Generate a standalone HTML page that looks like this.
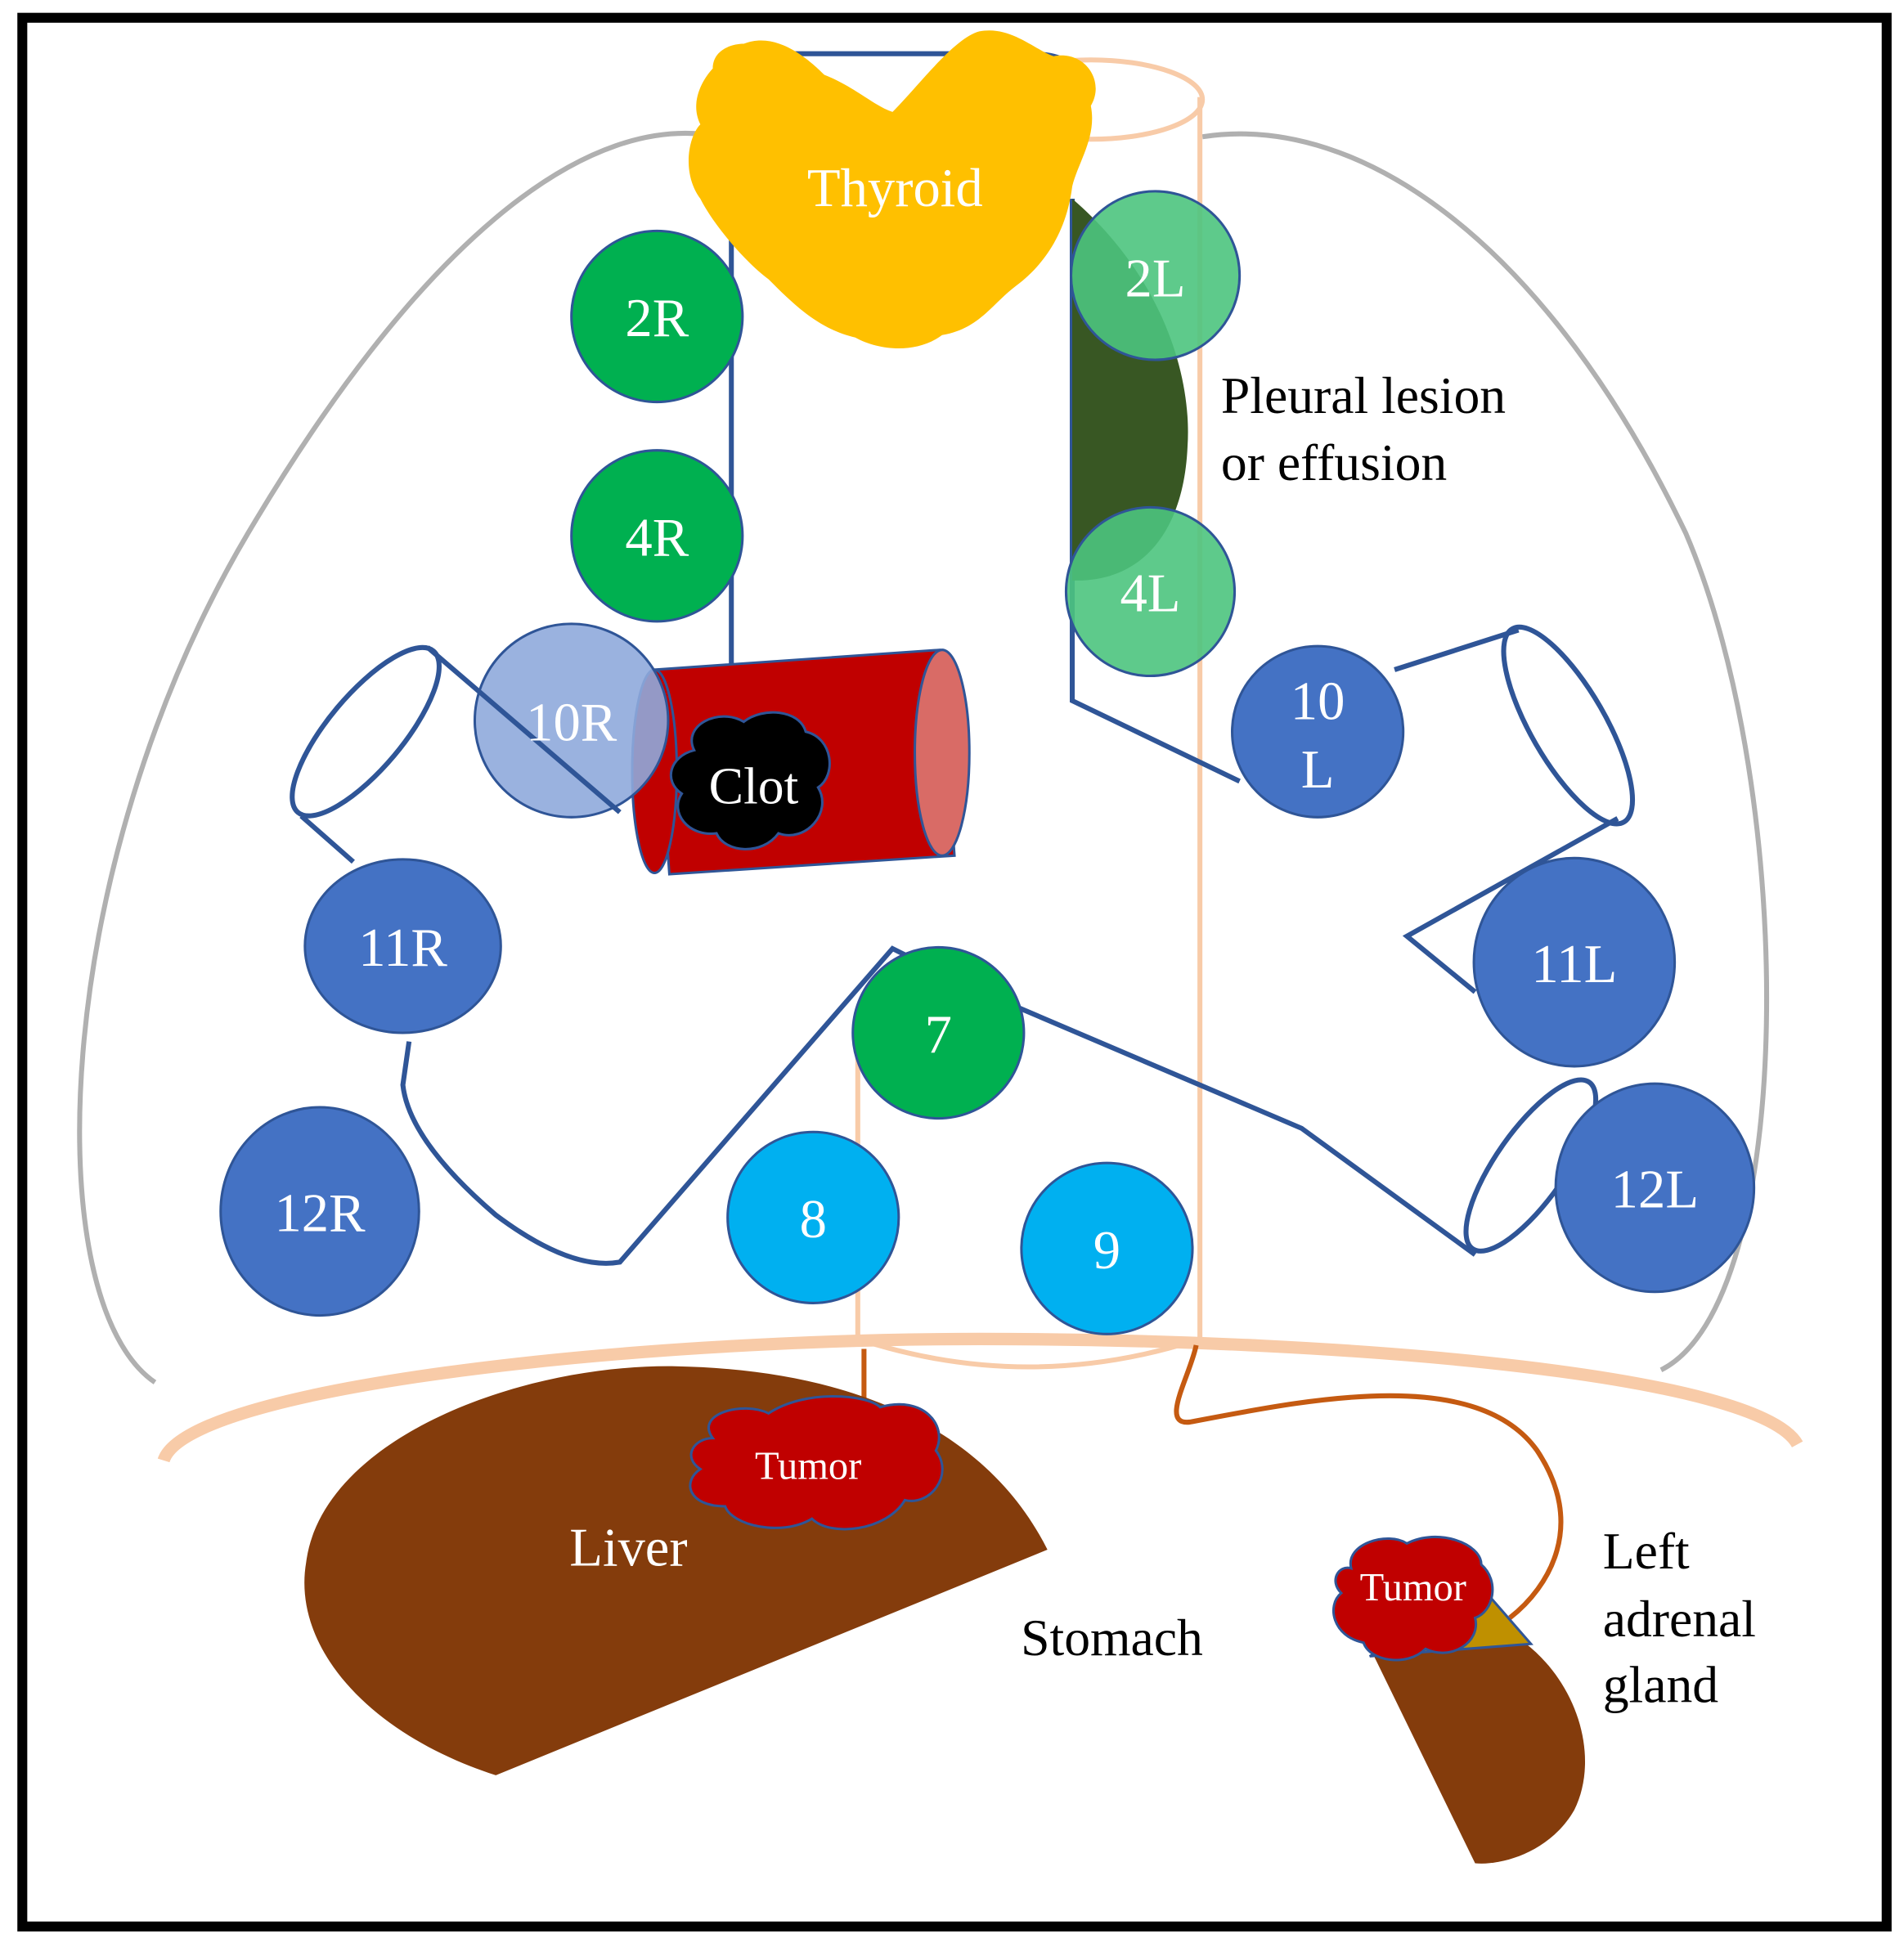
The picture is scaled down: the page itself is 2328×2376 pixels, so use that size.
<!DOCTYPE html>
<html><head><meta charset="utf-8"><style>
html,body{margin:0;padding:0;background:#fff}
svg{display:block}
text{font-family:"Liberation Serif",serif}
</style></head><body>
<svg width="2328" height="2376" viewBox="0 0 1536 1567" xmlns="http://www.w3.org/2000/svg">
<rect x="0" y="0" width="1536" height="1567" fill="#fff"/>
<rect x="18" y="14" width="1504" height="1540" fill="none" stroke="#000" stroke-width="8"/>
<path d="M125,1115 C30,1050 40,700 200,430 C330,210 470,80 590,112" fill="none" stroke="#b0b0b0" stroke-width="4"/>
<path d="M970,110 C1100,90 1250,200 1360,430 C1450,640 1450,1050 1340,1105" fill="none" stroke="#b0b0b0" stroke-width="4"/>
<ellipse cx="880" cy="80" rx="90" ry="32" fill="none" stroke="#f8cba8" stroke-width="4"/>
<line x1="968" y1="78" x2="968" y2="1082" stroke="#f8cba8" stroke-width="4"/>
<line x1="692" y1="820" x2="692" y2="1082" stroke="#f8cba8" stroke-width="4"/>
<path d="M692,1080 Q830,1125 968,1080" fill="none" stroke="#f8cba8" stroke-width="4"/>
<path d="M132,1178 C150,1120 500,1080 790,1080 C1100,1080 1420,1110 1450,1165" fill="none" stroke="#f8cba8" stroke-width="10"/>
<path d="M590,535 L590,180" fill="none" stroke="#2f5597" stroke-width="4"/>
<path d="M590,60 Q590,43 640,43 L830,43 Q865,43 865,60" fill="none" stroke="#2f5597" stroke-width="4"/>
<path d="M865,160 L865,565 L1000,630" fill="none" stroke="#2f5597" stroke-width="4"/>
<ellipse cx="295" cy="590" rx="30" ry="85" transform="rotate(40 295 590)" fill="none" stroke="#2f5597" stroke-width="4"/>
<path d="M243,658 L285,695" stroke="#2f5597" stroke-width="4"/>
<path d="M330,840 L325,875 Q330,920 400,980 Q460,1025 500,1018 L720,765 L730,770" fill="none" stroke="#2f5597" stroke-width="4"/>
<path d="M1125,540 L1225,508" stroke="#2f5597" stroke-width="4"/>
<ellipse cx="1265" cy="585" rx="30" ry="90" transform="rotate(-30 1265 585)" fill="none" stroke="#2f5597" stroke-width="4"/>
<path d="M1305,660 L1135,755 L1190,800" fill="none" stroke="#2f5597" stroke-width="4"/>
<path d="M820,812 L1050,910 L1190,1012" fill="none" stroke="#2f5597" stroke-width="4"/>
<ellipse cx="1235" cy="940" rx="28" ry="82" transform="rotate(35 1235 940)" fill="none" stroke="#2f5597" stroke-width="4"/>
<path d="M600,35 C625,25 650,45 665,60 C690,70 705,85 720,90 C740,70 770,30 790,25 C815,20 835,40 850,45 C875,40 892,65 880,85 C885,110 870,130 865,150 C860,190 840,215 820,230 C800,245 790,265 760,270 C740,285 710,283 690,272 C660,265 640,245 620,225 C600,210 575,180 565,160 C550,140 555,110 565,100 C555,80 570,60 575,55 C575,40 590,35 600,35 Z" fill="#ffc000"/>
<text x="722" y="166" fill="#fff" font-size="44" text-anchor="middle">Thyroid</text>
<path d="M865,160 C935,220 962,300 958,360 C955,430 920,470 865,468 Z" fill="#385723"/>
<path d="M528,540 L758,524 L770,690 L540,705 Z" fill="#c00000" stroke="#2f5597" stroke-width="2"/>
<ellipse cx="528" cy="622" rx="18" ry="82" fill="#c00000" stroke="#2f5597" stroke-width="2"/>
<ellipse cx="760" cy="607" rx="22" ry="83" fill="#d96b66" stroke="#2f5597" stroke-width="2"/>
<g stroke="#2f5597" stroke-width="2">
<circle cx="530" cy="255" r="69" fill="#00b050"/>
<circle cx="530" cy="432" r="69" fill="#00b050"/>
<circle cx="757" cy="833" r="69" fill="#00b050"/>
<circle cx="932" cy="222" r="68" fill="#4dc47e" fill-opacity="0.9"/>
<circle cx="928" cy="477" r="68" fill="#4dc47e" fill-opacity="0.9"/>
<circle cx="461" cy="581" r="78" fill="#8faadc" fill-opacity="0.9"/>
<circle cx="1063" cy="590" r="69" fill="#4472c4"/>
<ellipse cx="325" cy="763" rx="79" ry="70" fill="#4472c4"/>
<ellipse cx="258" cy="977" rx="80" ry="84" fill="#4472c4"/>
<ellipse cx="1270" cy="776" rx="81" ry="84" fill="#4472c4"/>
<ellipse cx="1335" cy="958" rx="80" ry="84" fill="#4472c4"/>
<circle cx="656" cy="982" r="69" fill="#00b0f0"/>
<circle cx="893" cy="1007" r="69" fill="#00b0f0"/>
</g>
<path d="M345,522 L500,655" stroke="#2f5597" stroke-width="4"/>
<g fill="#fff" font-size="44" text-anchor="middle">
<text x="530" y="271">2R</text><text x="530" y="448">4R</text><text x="757" y="849">7</text>
<text x="932" y="239">2L</text><text x="928" y="493">4L</text><text x="461" y="597">10R</text>
<text x="1063" y="580">10</text><text x="1063" y="635">L</text>
<text x="325" y="779">11R</text><text x="258" y="993">12R</text><text x="1270" y="792">11L</text>
<text x="1335" y="974">12L</text><text x="656" y="998">8</text><text x="893" y="1023">9</text>
</g>
<path d="M560,605 C550,585 580,570 600,582 C615,570 645,572 650,590 C672,595 675,625 660,635 C672,655 650,680 628,672 C615,690 585,688 578,672 C555,675 540,655 550,640 C535,630 540,610 560,605 Z" fill="#000" stroke="#2f5597" stroke-width="2"/>
<text x="608" y="648" fill="#fff" font-size="42" text-anchor="middle">Clot</text>
<text x="985" y="333" fill="#000" font-size="42">Pleural lesion</text>
<text x="985" y="387" fill="#000" font-size="42">or effusion</text>
<line x1="697" y1="1088" x2="697" y2="1132" stroke="#c55a11" stroke-width="4"/>
<path d="M965,1085 C960,1110 935,1150 960,1147 C1050,1130 1190,1100 1240,1170 C1280,1230 1250,1280 1218,1305" fill="none" stroke="#c55a11" stroke-width="4"/>
<path d="M845,1250 L400,1432 C300,1400 235,1330 247,1260 C260,1160 420,1100 545,1102 C700,1105 800,1160 845,1250 Z" fill="#843c0c"/>
<path d="M575,1160 C560,1140 600,1130 620,1140 C650,1120 700,1125 710,1135 C745,1125 765,1150 755,1170 C770,1190 750,1215 730,1210 C715,1235 670,1240 655,1225 C630,1240 590,1230 585,1215 C555,1215 550,1195 565,1185 C550,1175 560,1160 575,1160 Z" fill="#c00000" stroke="#2f5597" stroke-width="2"/>
<text x="652" y="1193" fill="#fff" font-size="32" text-anchor="middle">Tumor</text>
<text x="507" y="1263" fill="#fff" font-size="44" text-anchor="middle">Liver</text>
<text x="897" y="1335" fill="#000" font-size="42" text-anchor="middle">Stomach</text>
<path d="M1108,1335 L1230,1325 C1275,1360 1290,1420 1270,1460 C1250,1495 1210,1505 1190,1503 Z" fill="#843c0c"/>
<path d="M1195,1280 L1235,1326 L1105,1336 Z" fill="#bf9000" stroke="#2f5597" stroke-width="2"/>
<path d="M1090,1265 C1085,1245 1120,1235 1135,1245 C1160,1232 1195,1245 1195,1262 C1210,1275 1205,1300 1190,1305 C1195,1325 1170,1340 1150,1330 C1135,1345 1105,1340 1100,1325 C1075,1320 1070,1295 1082,1285 C1072,1275 1080,1262 1090,1265 Z" fill="#c00000" stroke="#2f5597" stroke-width="2"/>
<text x="1140" y="1291" fill="#fff" font-size="32" text-anchor="middle">Tumor</text>
<g fill="#000" font-size="42">
<text x="1293" y="1265">Left</text><text x="1293" y="1320">adrenal</text><text x="1293" y="1373">gland</text>
</g>
</svg>
</body></html>
